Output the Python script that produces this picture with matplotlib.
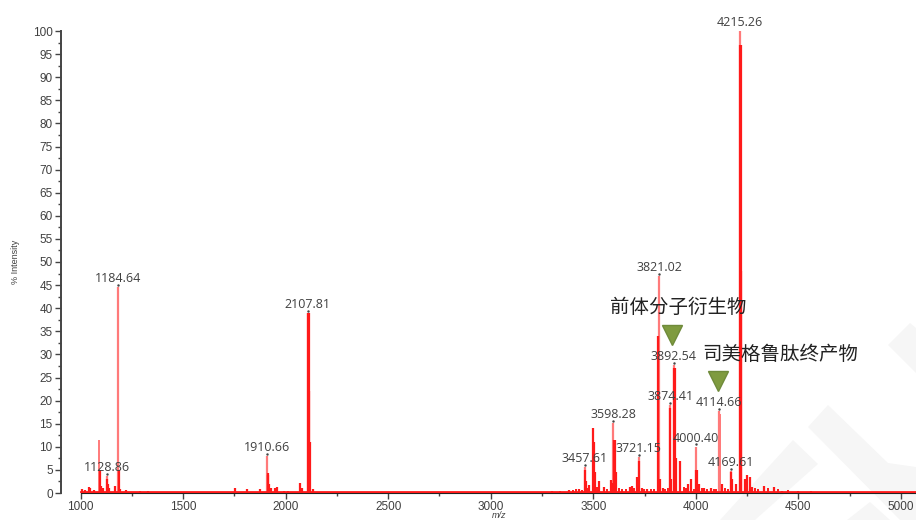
import matplotlib
matplotlib.use('Agg')
import matplotlib.pyplot as plt
from matplotlib.patches import Polygon

W, H = 916, 520
AX_LEFT, AX_RIGHT, AX_TOP, AX_BOTTOM = 61, 916, 31, 493
CJK = ['Noto Sans CJK SC', 'DejaVu Sans']

# labelled peaks
label_mz = [1128.86, 1184.64, 1910.66, 2107.81, 3457.61, 3598.28, 3721.15,
            3821.02, 3874.41, 3892.54, 4000.40, 4114.66, 4169.61, 4215.26]
label_int = [3.7, 44.5, 8.0, 39.0, 5.6, 15.1, 7.8,
             47.0, 19.0, 27.7, 10.0, 17.7, 4.8, 100.0]

# thin unlabelled peaks, drawn pale like the labelled ones
pale_mz = [1090, 4112, 4117, 4120]
pale_int = [11.5, 17.0, 17.0, 16.5]

# other peaks
peak_mz = [1005, 1020, 1040, 1045, 1065, 1095, 1102, 1108, 1130, 1135, 1140, 1170, 1186, 1195,
           1220, 1290, 1330, 1755, 1810, 1875, 1912, 1915, 1920, 1928, 1950, 1958, 1990, 2010,
           2070, 2078, 2109, 2112, 2116, 2120, 2135,
           3300, 3380, 3430, 3459, 3465, 3480, 3497, 3503,
           3510, 3530, 3550, 3585, 3595, 3600, 3605, 3612, 3680, 3690, 3715, 3722, 3735, 3760,
           3817, 3825, 3840, 3876, 3880, 3893, 3896, 3905, 3925, 3960, 3975, 4002, 4005, 4015, 4040, 4075,
           4125, 4172, 4175, 4195, 4214, 4218, 4222, 4240, 4250, 4265, 4275, 4330, 4380, 4420, 4560]
peak_int = [0.8, 0.6, 1.3, 1.0, 0.7, 5.0, 1.5, 1.0, 3.0, 2.0, 1.0, 1.5, 5.0, 0.8,
            0.6, 0.5, 0.4, 1.0, 0.9, 0.8, 4.0, 4.3, 2.0, 1.0, 1.0, 1.3, 0.5, 0.4,
            2.2, 1.0, 39.0, 39.0, 22.0, 11.0, 0.8,
            0.5, 0.7, 0.8, 5.0, 2.5, 1.8, 14.0, 11.0,
            4.5, 2.5, 1.2, 2.8, 2.2, 11.5, 11.5, 4.5, 1.2, 1.6, 3.5, 7.0, 1.0, 0.8,
            34.0, 3.0, 1.0, 18.5, 3.0, 27.0, 27.0, 7.5, 7.0, 2.0, 3.0, 5.0, 5.0, 2.0, 1.0, 1.0,
            2.0, 4.5, 3.0, 2.0, 97.0, 97.0, 48.0, 3.0, 3.8, 3.5, 1.2, 1.6, 1.2, 0.5, 0.4]

# clutter just above the baseline
low_mz = [3340, 3400, 3415, 3445, 3475, 3520, 3565, 3625, 3640, 3660, 3700, 3745, 3780, 3795,
          3850, 3865, 3940, 3950, 3990, 4030, 4055, 4090, 4100, 4140, 4155, 4290, 4305, 4350, 4400, 4450, 4500]
low_int = [0.4, 0.6, 0.8, 0.7, 1.0, 1.4, 0.9, 1.0, 0.8, 0.9, 1.0, 0.8, 0.9, 0.8,
           0.9, 1.0, 1.2, 1.0, 0.9, 1.0, 0.8, 0.9, 0.8, 1.0, 0.9, 1.0, 0.9, 1.0, 0.9, 0.6, 0.5]

# annotations
ann_text = ['前体分子衍生物', '司美格鲁肽终产物']
ann_mz = [3883, 4107]
ann_int = [34.2, 24.3]

x_ticks = [1000, 1500, 2000, 2500, 3000, 3500, 4000, 4500, 5000]
y_ticks = list(range(0, 101, 5))

# watermark shapes, in image pixels
watermark = [
    [(910, 323), (888, 345), (916, 373), (916, 328)],
    [(828, 405), (888, 463), (916, 467), (916, 520), (900, 520), (808, 427)],
    [(793, 440), (720, 520), (755, 520), (818, 464)],
    [(870, 502), (847, 520), (890, 520)],
]

fig = plt.figure(figsize=(W / 100, H / 100), dpi=100)
for pts in watermark:
    fig.patches.append(Polygon([(x / W, 1 - y / H) for x, y in pts], closed=True,
                               transform=fig.transFigure, fc='#f6f6f6', ec='none', zorder=-5))

ax = fig.add_axes([AX_LEFT / W, 1 - AX_BOTTOM / H, (AX_RIGHT - AX_LEFT) / W, (AX_BOTTOM - AX_TOP) / H])
ax.patch.set_alpha(0)

ax.set_xticks(x_ticks)
ax.set_xticks([t + 250 for t in x_ticks[:-1]], minor=True)
ax.set_yticks(y_ticks)
ax.set_yticks([t + 2.5 for t in y_ticks[:-1]], minor=True)

# 1000 at px 80.5, 5000 at px 901
scale = (901 - 80.5) / 4000
x_min = 1000 - (80.5 - AX_LEFT) / scale
x_max = 1000 + (AX_RIGHT - 80.5) / scale
ax.set_xlim(x_min, x_max)
ax.set_ylim(0, 100)

ax.vlines(low_mz, 0, low_int, color='#ff1a1a', lw=1.4, zorder=2)
ax.vlines(label_mz, 0, label_int, color='#ff7a7a', lw=1.6, zorder=2)
ax.vlines(pale_mz, 0, pale_int, color='#ff7a7a', lw=1.4, zorder=2)
ax.vlines(peak_mz, 0, peak_int, color='#ff1a1a', lw=1.6, zorder=2)
ax.plot([1000, x_max], [0.3, 0.3], color='#ff1a1a', lw=2, zorder=3)

for mz, val in zip(label_mz, label_int):
    ax.plot([mz], [val + 0.5], '.', color='#444444', ms=1.5)
    ax.annotate(f'{mz:.2f}', (mz, val), xytext=(0, 1.5), textcoords='offset points', ha='center',
                va='bottom', fontsize=9, family='Open Sans', color='#404040', zorder=6)

ax.plot(ann_mz, ann_int, 'v', ms=15, mfc='#7f9b3f', mec='#6f8a3a', mew=1, zorder=5)
fig.text(678 / W, 1 - 307 / H, ann_text[0], ha='center', va='center', fontsize=14, family=CJK, color='#222222')
fig.text(780 / W, 1 - 354 / H, ann_text[1], ha='center', va='center', fontsize=14, family=CJK, color='#222222')

for side in ['top', 'right']:
    ax.spines[side].set_visible(False)
ax.spines['left'].set_linewidth(1.4)
ax.spines['left'].set_color('#444444')
ax.spines['bottom'].set_bounds(1000, x_max)
ax.spines['bottom'].set_color('#222222')

ax.tick_params(axis='both', which='major', length=4, width=1, color='#444444', labelsize=8.5,
               labelcolor='#404040', pad=2)
ax.tick_params(axis='both', which='minor', length=2, width=1, color='#444444')
for lab in ax.get_xticklabels() + ax.get_yticklabels():
    lab.set_family('Liberation Sans')

fig.text(16 / W, 1 - 262 / H, '% Intensity', rotation=90, ha='center', va='center', fontsize=6.5,
         family='Liberation Sans', color='#404040')
fig.text(499 / W, 1 - 516 / H, 'm/z', ha='center', va='center', fontsize=6.5, style='italic',
         family='Liberation Sans', color='#404040')

fig.savefig('out.png', dpi=100)
